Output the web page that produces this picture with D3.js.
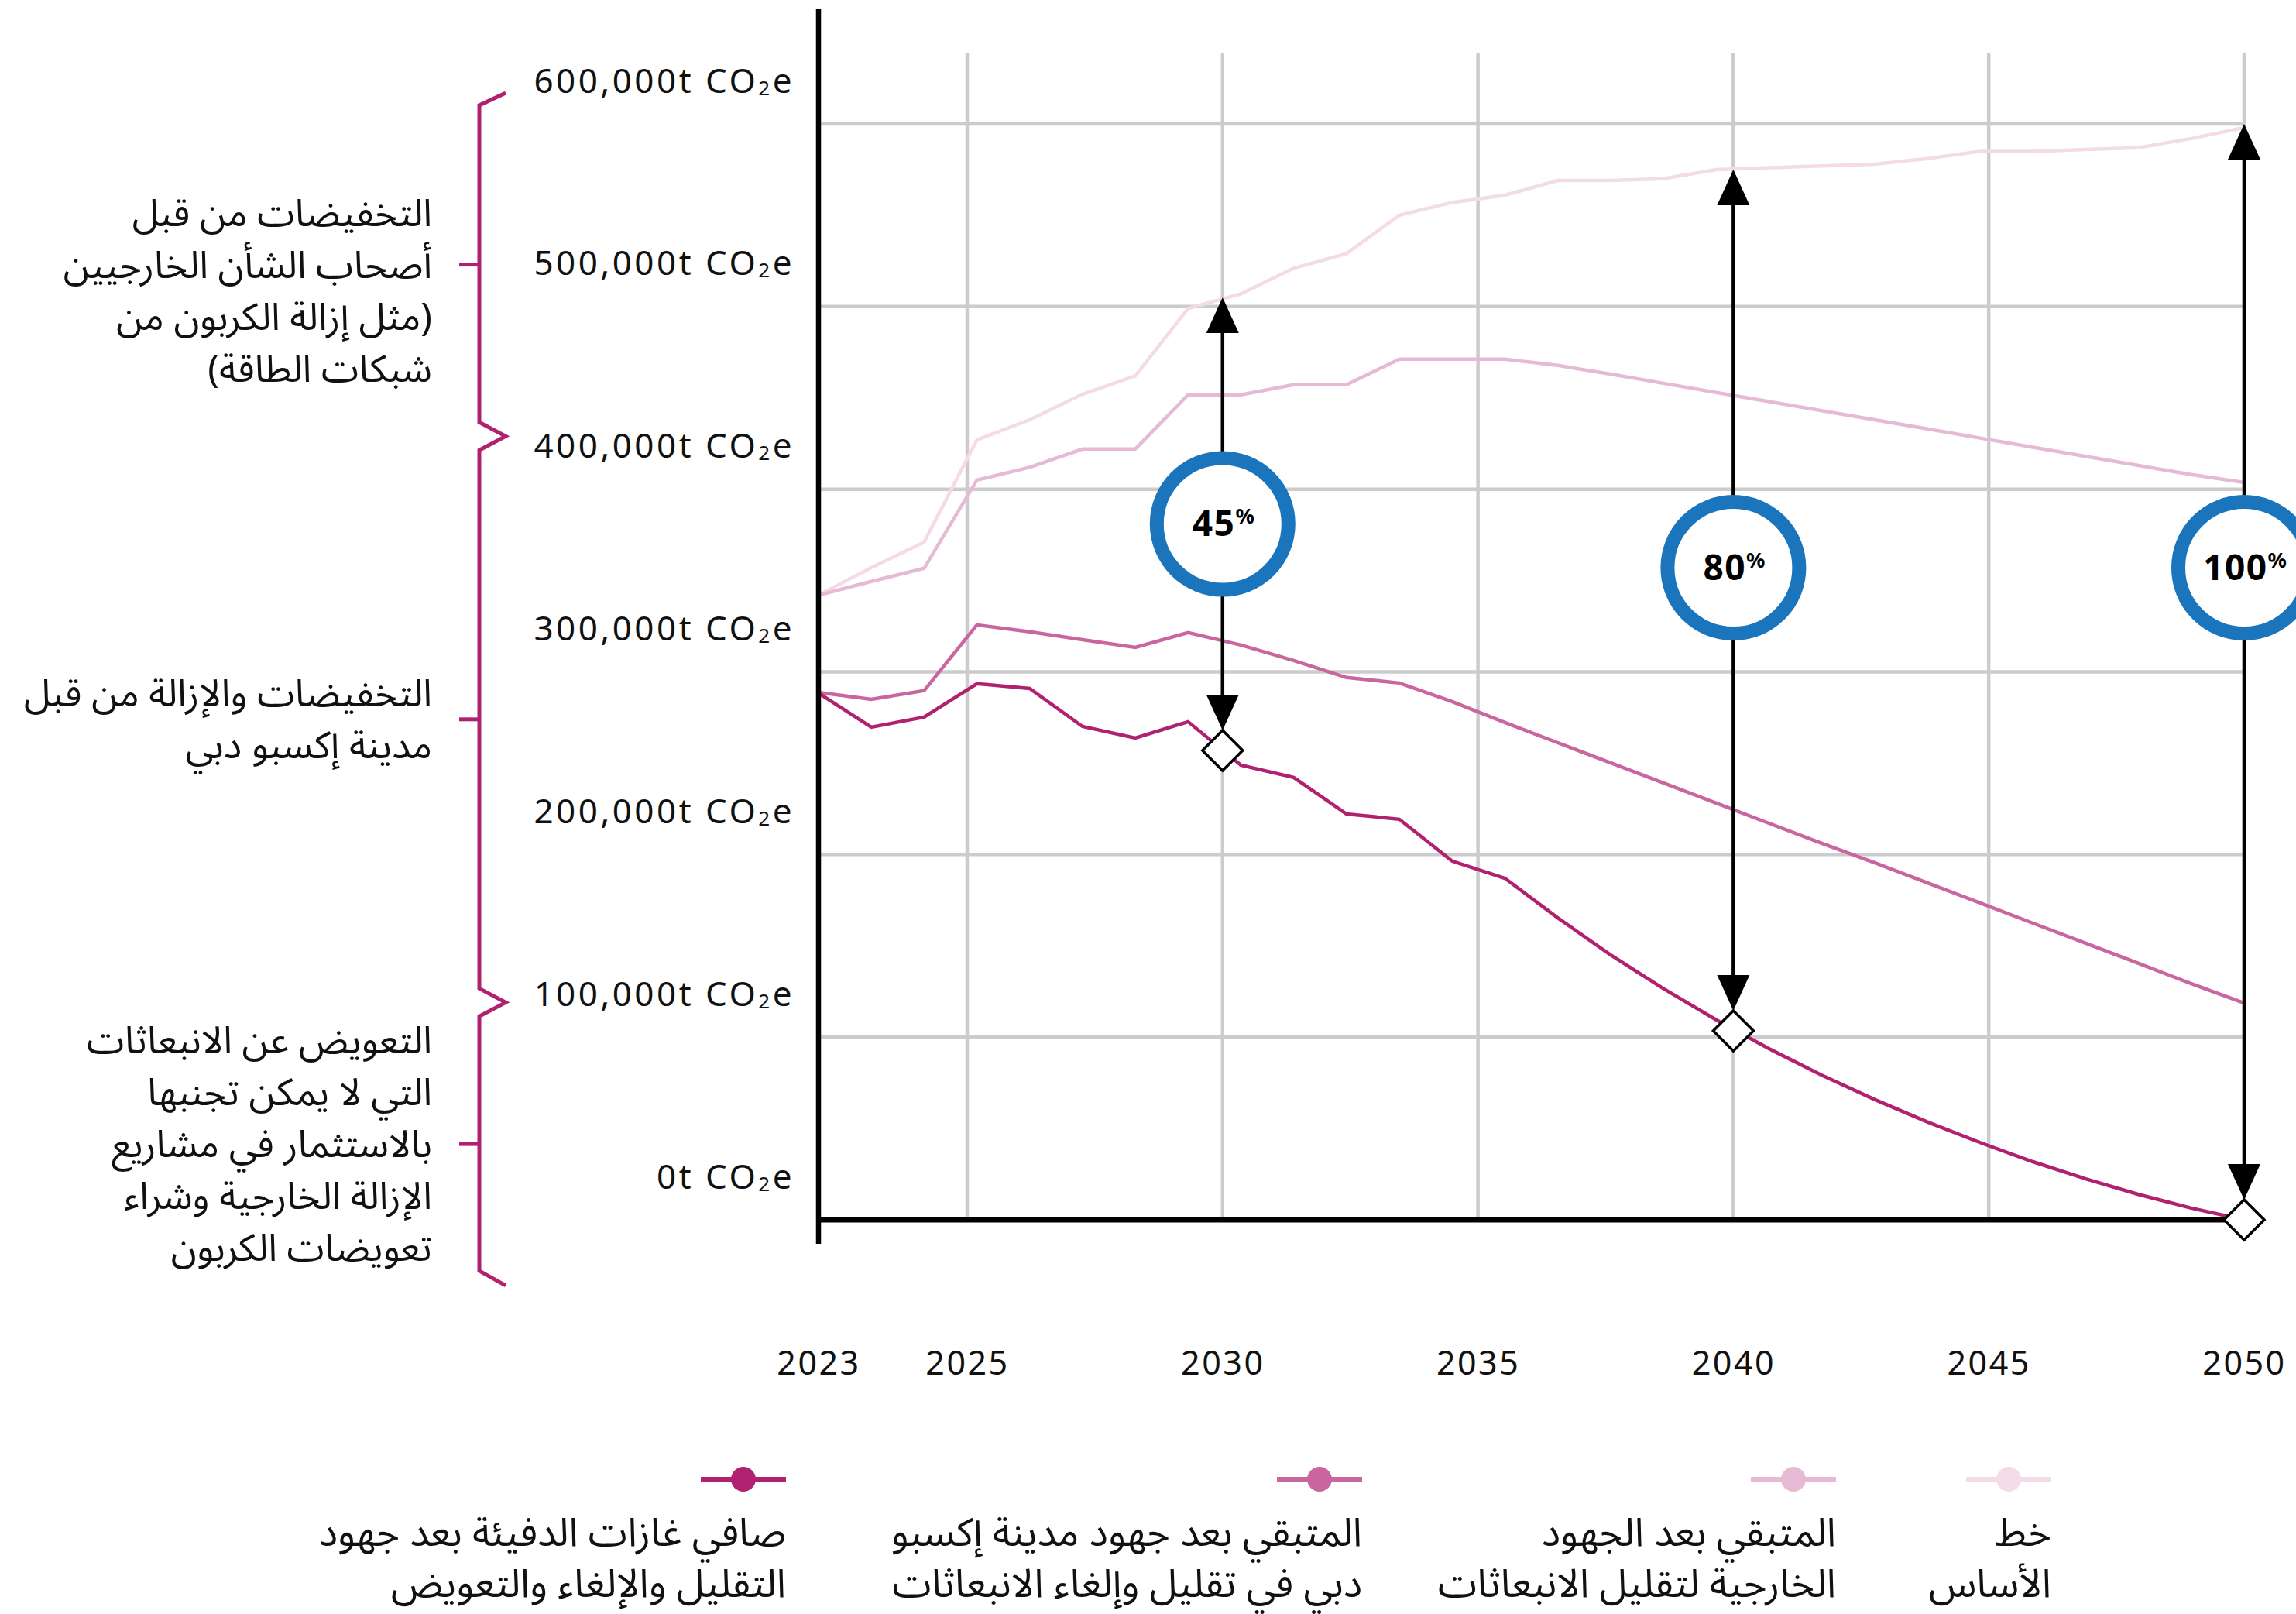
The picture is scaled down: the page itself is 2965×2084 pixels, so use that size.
<!DOCTYPE html>
<html><head><meta charset="utf-8">
<script src="https://cdn.jsdelivr.net/npm/d3@7"></script>
<style>
html,body{margin:0;padding:0;background:#fff;}
svg{display:block;}
</style></head><body>
<svg id="c" width="2965" height="2084"></svg>
<script>
// ---------- DATA ----------
const years = [2023,2024,2025,2026,2027,2028,2029,2030,2031,2032,2033,2034,2035,2036,
               2037,2038,2039,2040,2041,2042,2043,2044,2045,2046,2047,2048,2049,2050];
const baseline = [342000,357000,371000,427000,438000,452000,462000,499000,507000,521000,529000,550000,557000,561000,
                  569000,569000,570000,575000,576000,577000,578000,581000,585000,585000,586000,587000,592000,598000];
const afterExternal = [342000,349500,356700,405000,412000,422000,422000,451700,451700,457200,457200,471200,471200,471200,
                       467800,463000,458000,453000,448000,443000,438000,433000,428000,423000,418000,413000,408000,403700];
const afterDubai = [288800,285000,289700,325700,321900,317600,313400,321500,314700,306200,296900,293900,283700,272300,
                    261200,250200,239200,228200,217100,206100,195500,184500,173500,162400,151400,140400,129300,118700];
const netEmissions = [288400,269700,275200,293500,290900,270100,263800,272700,248900,242200,222200,219300,196400,187000,
                      165300,145100,126600,109500,93700,79200,65900,53600,42300,31800,22400,13900,6400,0];

const seriesLabels = [
  ["خط","الأساس"],
  ["المتبقي بعد الجهود","الخارجية لتقليل الانبعاثات"],
  ["المتبقي بعد جهود مدينة إكسبو","دبي في تقليل وإلغاء الانبعاثات"],
  ["صافي غازات الدفيئة بعد جهود","التقليل والإلغاء والتعويض"]
];
const seriesColors = ["#f3dbe7","#e6bad4","#c9669f","#b0226f"];

const yTicks = [0,100000,200000,300000,400000,500000,600000];
const yTickLabels = ["0t","100,000t","200,000t","300,000t","400,000t","500,000t","600,000t"];
const xTickYears = [2023,2025,2030,2035,2040,2045,2050];

const milestoneYears = [2030,2040,2050];
const milestonePct = ["45","80","100"];
const milestoneTop = [505000,575000,600000];
const milestoneNet = [257000,103500,0];
const milestoneBadge = [381000,357000,357000];

const braceStops = [617000,429000,119000,-36000];
const braceLabels = [
  ["التخفيضات من قبل","أصحاب الشأن الخارجيين","(مثل إزالة الكربون من","شبكات الطاقة)"],
  ["التخفيضات والإزالة من قبل","مدينة إكسبو دبي"],
  ["التعويض عن الانبعاثات","التي لا يمكن تجنبها","بالاستثمار في مشاريع","الإزالة الخارجية وشراء","تعويضات الكربون"]
];
const braceAnchorLine = [1,0.5,2];

(function(){
// ---------- LAYOUT ----------
const W = 2965, H = 2084;
const pL = 1057, pR = 2898, pB = 1575, pT = 160;
const latin = '"Noto Sans","Open Sans",sans-serif';
const arabic = '"Noto Sans Arabic","Noto Sans","DejaVu Sans",sans-serif';
const arSize = 49, legSize = 51;
const svg = d3.select("#c");
svg.append("rect").attr("width",W).attr("height",H).attr("fill","#fff");

const y = d3.scaleLinear().domain([0,600000]).range([pB, pT]);
const xData = d3.scaleLinear().domain([years[0], years[years.length-1]]).range([pL, pR]);
const xTick = d3.scaleLinear().domain([2023,2025,2050]).range([pL,1249,pR]);

// gridlines
const grid = svg.append("g").attr("stroke","#cccccc").attr("stroke-width",4.5);
grid.selectAll("line.h").data(yTicks.filter(d=>d>0)).join("line").attr("class","h")
  .attr("x1",pL).attr("x2",pR).attr("y1",d=>y(d)).attr("y2",d=>y(d));
grid.selectAll("line.v").data(xTickYears.filter(d=>d>2023)).join("line").attr("class","v")
  .attr("x1",d=>xTick(d)).attr("x2",d=>xTick(d)).attr("y1",68).attr("y2",pB);

// y axis labels
const gy = svg.append("g").attr("transform","translate(1026,0)")
  .call(d3.axisLeft(y).tickValues(yTicks).tickSize(0).tickPadding(0).tickFormat(""));
gy.select(".domain").remove();
gy.attr("font-family",latin).attr("font-size",44).attr("fill","#111").attr("letter-spacing",3.5);
gy.selectAll(".tick text").each(function(d,i){
  const t = d3.select(this);
  t.attr("x",0).attr("dy",null).attr("y",-41).attr("fill","#111");
  t.text(null);
  t.append("tspan").text(yTickLabels[i]+" CO");
  t.append("tspan").attr("font-size",26).attr("dy",3).text("2");
  t.append("tspan").attr("dy",-3).text("e");
});

// x axis labels
const gx = svg.append("g").attr("transform",`translate(0,${pB})`)
  .call(d3.axisBottom(xTick).tickValues(xTickYears).tickSize(0).tickFormat(d3.format("d")));
gx.select(".domain").remove();
gx.attr("font-family",latin).attr("font-size",43).attr("letter-spacing",2.5);
gx.selectAll(".tick text").attr("y",200).attr("dy",null).attr("fill","#111");

// series lines
const line = d3.line().x((d,i)=>xData(years[i])).y(d=>y(d));
const allSeries = [baseline, afterExternal, afterDubai, netEmissions];
svg.append("g").selectAll("path").data(allSeries).join("path")
  .attr("d",d=>line(d)).attr("fill","none")
  .attr("stroke",(d,i)=>seriesColors[i]).attr("stroke-width",4.5)
  .attr("stroke-linejoin","miter");

// axes lines
svg.append("line").attr("x1",pL).attr("x2",pL).attr("y1",12).attr("y2",1606)
  .attr("stroke","#000").attr("stroke-width",6.5);
svg.append("line").attr("x1",pL).attr("x2",pR).attr("y1",pB).attr("y2",pB)
  .attr("stroke","#000").attr("stroke-width",7);

// milestone arrows
const ms = milestoneYears.map((yr,i)=>({x:xTick(yr), top:y(milestoneTop[i]), net:y(milestoneNet[i]), badge:y(milestoneBadge[i]), pct:milestonePct[i]}));
const dh = 26, ah = 46, aw = 21;
const mg = svg.append("g");
ms.forEach(m=>{
  const g = mg.append("g");
  g.append("line").attr("x1",m.x).attr("x2",m.x).attr("y1",m.top+ah-2).attr("y2",m.net-dh-ah+2)
    .attr("stroke","#000").attr("stroke-width",4.5);
  g.append("path").attr("d",`M${m.x},${m.top} L${m.x+aw},${m.top+ah} L${m.x-aw},${m.top+ah} Z`).attr("fill","#000");
  const dt = m.net-dh;
  g.append("path").attr("d",`M${m.x},${dt} L${m.x+aw},${dt-ah} L${m.x-aw},${dt-ah} Z`).attr("fill","#000");
  g.append("path").attr("d",`M${m.x},${m.net-dh} L${m.x+dh},${m.net} L${m.x},${m.net+dh} L${m.x-dh},${m.net} Z`)
    .attr("fill","#fff").attr("stroke","#000").attr("stroke-width",3.5);
  g.append("circle").attr("cx",m.x).attr("cy",m.badge).attr("r",85)
    .attr("fill","#fff").attr("stroke","#1a75bc").attr("stroke-width",18);
  const t = g.append("text").attr("x",m.x+1).attr("y",m.badge+16).attr("text-anchor","middle")
    .attr("font-family",latin).attr("font-weight",700).attr("font-size",46).attr("letter-spacing",1.5).attr("fill","#000");
  t.append("tspan").text(m.pct);
  t.append("tspan").attr("font-size",27).attr("dy",-16).attr("letter-spacing",0).text("%");
});

// braces
const bx = 619, bo = 34, bh = 18;
const bs = braceStops.map(v=>y(v));
const bc = "#b0226f";
let p = `M${bx+bo},${bs[0]} L${bx},${bs[0]+16}`;
for (let k=1;k<bs.length-1;k++){
  p += ` L${bx},${bs[k]-bh} L${bx+bo},${bs[k]} L${bx},${bs[k]+bh}`;
}
p += ` L${bx},${bs[bs.length-1]-19} L${bx+bo},${bs[bs.length-1]}`;
svg.append("path").attr("d",p).attr("fill","none").attr("stroke",bc).attr("stroke-width",5).attr("stroke-linejoin","miter");
const lh = 67;
braceLabels.forEach((lines,gi)=>{
  const mid = (bs[gi]+bs[gi+1])/2;
  svg.append("line").attr("x1",593).attr("x2",bx).attr("y1",mid).attr("y2",mid).attr("stroke",bc).attr("stroke-width",5);
  const first = mid + 17 - braceAnchorLine[gi]*lh;
  lines.forEach((s,li)=>{
    svg.append("text").attr("font-family",arabic).attr("font-size",arSize).attr("fill","#111")
      .attr("direction","rtl").style("direction","rtl").attr("text-anchor","start")
      .attr("x",558).attr("y",first+li*lh).text(s);
  });
});

// legend
const legendRight = [2649,2371,1759,1015];
const lg = svg.append("g");
seriesLabels.forEach((lines,i)=>{
  const rx = legendRight[i];
  const cx = rx-55;
  lg.append("line").attr("x1",cx-55).attr("x2",cx+55).attr("y1",1910).attr("y2",1910)
    .attr("stroke",seriesColors[i]).attr("stroke-width",6);
  lg.append("circle").attr("cx",cx).attr("cy",1910).attr("r",16).attr("fill",seriesColors[i]);
  lines.forEach((s,li)=>{
    lg.append("text").attr("font-family",arabic).attr("font-size",legSize).attr("fill","#111")
      .attr("direction","rtl").style("direction","rtl").attr("text-anchor","start")
      .attr("x",rx).attr("y",1996+li*66).text(s);
  });
});
})();
</script>
</body></html>
